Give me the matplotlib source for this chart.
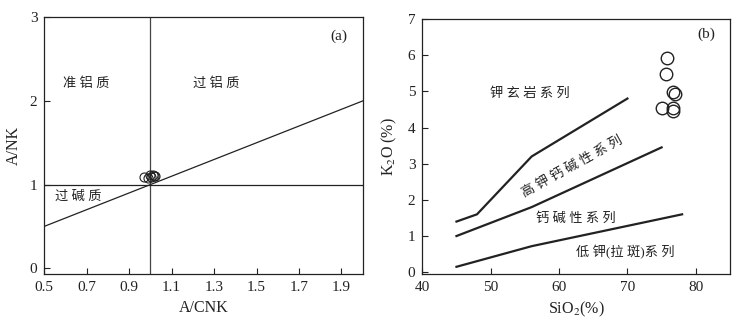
import matplotlib
matplotlib.use("Agg")
import matplotlib.pyplot as plt
import numpy as np

plt.rcParams['font.family'] = ['Liberation Serif', 'Noto Sans CJK SC']
plt.rcParams['mathtext.fontset'] = 'stix'

# (a) A/CNK - A/NK
acnk = [0.97, 0.99, 1.00, 1.005, 1.01, 1.015, 1.02]
anks = [1.09, 1.08, 1.11, 1.09, 1.12, 1.10, 1.10]
a_xticks = [0.5, 0.7, 0.9, 1.1, 1.3, 1.5, 1.7, 1.9]
a_yticks = [0, 1, 2, 3]

# (b) SiO2 - K2O
sio2 = [75.75, 75.6, 76.6, 76.9, 75.0, 76.6, 76.7]
k2o = [5.92, 5.49, 4.99, 4.92, 4.53, 4.55, 4.46]
shosh_x = [45, 48, 56, 70]
shosh_y = [1.4, 1.6, 3.2, 4.8]
highk_x = [45, 56, 75]
highk_y = [1.0, 1.8, 3.45]
lowk_x = [45, 56, 78]
lowk_y = [0.15, 0.72, 1.6]
b_xticks = [40, 50, 60, 70, 80]
b_yticks = [0, 1, 2, 3, 4, 5, 6, 7]

ink = '#222222'

fig = plt.figure(figsize=(7.47, 3.27), dpi=100)
ax1 = fig.add_axes([0.0593, 0.162, 0.4262, 0.785])
ax2 = fig.add_axes([0.5653, 0.162, 0.4119, 0.780])

for ax in (ax1, ax2):
    for s in ax.spines.values():
        s.set_linewidth(0.9)
        s.set_color(ink)
    ax.tick_params(direction='in', length=4, width=0.8, color=ink,
                   labelsize=11, labelcolor=ink, pad=5)

# --- panel a
ax1.set_xlim(0.5, 2.0)
ax1.set_ylim(-0.07, 3)
ax1.set_xticks(a_xticks)
ax1.set_xticklabels([f'{v:.1f}' for v in a_xticks])
ax1.set_yticks(a_yticks)
ax1.axvline(1.0, color='#444444', lw=0.9)
ax1.axhline(1.0, color=ink, lw=0.9)
ax1.plot([0.5, 2.0], [0.5, 2.0], color=ink, lw=0.9)
ax1.plot(acnk, anks, 'o', ms=6.5, mfc='none', mec=ink, mew=0.8)
ax1.text(0.70, 2.21, '准 铝 质', fontsize=9.5, ha='center', va='center', color=ink)
ax1.text(1.31, 2.21, '过 铝 质', fontsize=9.5, ha='center', va='center', color=ink)
ax1.text(0.66, 0.86, '过 碱 质', fontsize=9.5, ha='center', va='center', color=ink)
ax1.text(1.89, 2.77, '(a)', fontsize=11, ha='center', va='center', color=ink)
ax1.set_xlabel('A/CNK', fontsize=11.5, color=ink, labelpad=4)
ax1.set_ylabel('A/NK', fontsize=11.5, color=ink, labelpad=6)

# --- panel b
ax2.set_xlim(40, 85)
ax2.set_ylim(-0.05, 7)
ax2.set_xticks(b_xticks)
ax2.set_yticks(b_yticks)
for xs, ys in ((shosh_x, shosh_y), (highk_x, highk_y), (lowk_x, lowk_y)):
    ax2.plot(xs, ys, color=ink, lw=1.6)
ax2.plot(sio2, k2o, 'o', ms=9, mfc='none', mec=ink, mew=1.0)
ax2.text(55.8, 4.94, '钾 玄 岩 系 列', fontsize=9.5, ha='center', va='center', color=ink)
ax2.text(61.9, 2.93, '高 钾 钙 碱 性 系 列', fontsize=9.5, ha='center', va='center',
         rotation=29, rotation_mode='anchor', color=ink)
ax2.text(62.4, 1.49, '钙 碱 性 系 列', fontsize=9.5, ha='center', va='center', color=ink)
ax2.text(69.7, 0.55, '低 钾(拉 斑)系 列', fontsize=9.5, ha='center', va='center', color=ink)
ax2.text(81.5, 6.57, '(b)', fontsize=11, ha='center', va='center', color=ink)
ax2.set_xlabel(r'SiO$_{2}$(%)', fontsize=11.5, color=ink, labelpad=4)
ax2.set_ylabel(r'K$_{2}$O (%)', fontsize=11.5, color=ink, labelpad=6)

fig.savefig('out.png', dpi=100)
